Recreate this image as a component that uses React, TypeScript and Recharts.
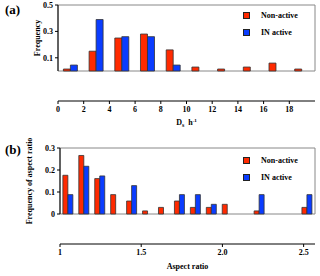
import React from 'react';
import {
  BarChart,
  Bar,
  XAxis,
  YAxis,
  ReferenceArea,
  Legend,
} from 'recharts';

// (a) Ds h^-1 distribution, 2-unit bins from 0 to 20
const binsA = ['0-2', '2-4', '4-6', '6-8', '8-10', '10-12', '12-14', '14-16', '16-18', '18-20'];
const centersA = [1, 3, 5, 7, 9, 11, 13, 15, 17, 19];
const nonActiveA = [0.015, 0.15, 0.25, 0.28, 0.16, 0.03, 0.015, 0.03, 0.06, 0.015];
const inActiveA = [0.045, 0.39, 0.26, 0.26, 0.045, 0, 0, 0, 0, 0];
const xTicksA = [0, 2, 4, 6, 8, 10, 12, 14, 16, 18];
const yTicksA = [0, 0.1, 0.2, 0.3, 0.4, 0.5];

// (b) aspect ratio distribution, 0.1 bins from 1.0 to 2.6
const binsB = ['1.0', '1.1', '1.2', '1.3', '1.4', '1.5', '1.6', '1.7', '1.8', '1.9', '2.0', '2.1', '2.2', '2.3', '2.4', '2.5'];
const centersB = [1.05, 1.15, 1.25, 1.35, 1.45, 1.55, 1.65, 1.75, 1.85, 1.95, 2.05, 2.15, 2.25, 2.35, 2.45, 2.55];
const nonActiveB = [0.176, 0.266, 0.161, 0.088, 0.059, 0.014, 0.03, 0.059, 0.03, 0.03, 0.044, 0, 0.014, 0, 0, 0.03];
const inActiveB = [0.088, 0.217, 0.173, 0, 0.129, 0, 0, 0.088, 0.088, 0.044, 0, 0, 0.088, 0, 0, 0.088];
const xTicksB = [1, 1.5, 2, 2.5];
const xTickLabelsB = ['1', '1.5', '2.0', '2.5'];
const yTicksB = [0, 0.05, 0.1, 0.15, 0.2, 0.25, 0.3];

const dataA = binsA.map((bin, i) => ({
  bin,
  center: centersA[i],
  nonActive: nonActiveA[i],
  inActive: inActiveA[i],
}));

const dataB = binsB.map((bin, i) => ({
  bin,
  center: centersB[i],
  nonActive: nonActiveB[i],
  inActive: inActiveB[i],
}));

const RED = '#ff2a00';
const BLUE = '#0a3cff';
const FONT = '"Liberation Serif", "Times New Roman", serif';
const tickStyle = { fontFamily: FONT, fontSize: 8, fontWeight: 700, fill: '#000' };

const yLabel = (text: string, x: number) => (props: any) => {
  const vb = props.viewBox;
  const cy = vb.y + vb.height / 2;
  return (
    <text
      x={x}
      y={cy}
      transform={`rotate(-90 ${x} ${cy})`}
      textAnchor="middle"
      dominantBaseline="central"
      fontFamily={FONT}
      fontSize={8}
      fontWeight={700}
      fill="#000"
    >
      {text}
    </text>
  );
};

const dsLabel = (props: any) => {
  const vb = props.viewBox;
  const cx = vb.x + vb.width / 2;
  return (
    <text x={cx} y={vb.y + 24} textAnchor="middle" fontFamily={FONT} fontSize={8} fontWeight={700} fill="#000">
      <tspan>D</tspan>
      <tspan dy={2} fontSize={6}>s</tspan>
      <tspan dy={-2} dx={4}>h</tspan>
      <tspan dy={-3} fontSize={5}>-1</tspan>
    </text>
  );
};

const aspectLabel = (props: any) => {
  const vb = props.viewBox;
  const cx = vb.x + vb.width / 2;
  return (
    <text x={cx} y={vb.y + 25} textAnchor="middle" fontFamily={FONT} fontSize={8} fontWeight={700} fill="#000">
      Aspect ratio
    </text>
  );
};

const legendContent = () => (
  <div style={{ fontFamily: FONT, fontSize: 8, fontWeight: 700, color: '#000' }}>
    {[
      { name: 'Non-active', color: RED },
      { name: 'IN active', color: BLUE },
    ].map((it) => (
      <div key={it.name} style={{ display: 'flex', alignItems: 'center', height: 17 }}>
        <span
          style={{
            width: 5,
            height: 5,
            background: it.color,
            border: '1px solid #222',
            marginRight: 11,
          }}
        />
        <span>{it.name}</span>
      </div>
    ))}
  </div>
);

const panelLabel = (text: string, top: number) => (
  <div
    style={{
      position: 'absolute',
      left: 5,
      top,
      fontFamily: FONT,
      fontSize: 13,
      fontWeight: 700,
      lineHeight: '13px',
    }}
  >
    {text}
  </div>
);

export default function App() {
  return (
    <div style={{ position: 'absolute', left: 0, top: 0, width: 320, height: 276, background: '#fff' }}>
      {panelLabel('(a)', 3)}
      <div style={{ position: 'absolute', left: 0, top: 0 }}>
        <BarChart
          width={320}
          height={135}
          data={dataA}
          margin={{ top: 5, right: 5, bottom: 0, left: 0 }}
          barCategoryGap="21%"
          barGap={0}
        >
          <XAxis xAxisId="bins" dataKey="bin" hide />
          <XAxis
            xAxisId="num"
            type="number"
            dataKey="center"
            domain={[0, 20]}
            ticks={xTicksA}
            allowDataOverflow
            height={30}
            tick={tickStyle}
            tickSize={3}
            stroke="#000"
            label={{ content: dsLabel }}
          />
          <YAxis
            domain={[0, 0.5]}
            ticks={yTicksA}
            width={58}
            tick={tickStyle}
            tickSize={3}
            stroke="#000"
            label={{ content: yLabel('Frequency', 37) }}
          />
          <ReferenceArea xAxisId="num" x1={0} x2={20} y1={0} y2={0.5} fill="none" stroke="#888" strokeWidth={1} ifOverflow="visible" />
          <Legend content={legendContent} wrapperStyle={{ left: 243, top: 7, width: 70 }} />
          <Bar xAxisId="bins" dataKey="nonActive" name="Non-active" fill={RED} stroke="#333" strokeWidth={0.8} isAnimationActive={false} />
          <Bar xAxisId="bins" dataKey="inActive" name="IN active" fill={BLUE} stroke="#333" strokeWidth={0.8} isAnimationActive={false} />
        </BarChart>
      </div>

      {panelLabel('(b)', 143)}
      <div style={{ position: 'absolute', left: 0, top: 135 }}>
        <BarChart
          width={320}
          height={141}
          data={dataB}
          margin={{ top: 13, right: 5, bottom: 0, left: 0 }}
          barCategoryGap="18%"
          barGap={0}
        >
          <XAxis xAxisId="bins" dataKey="bin" hide />
          <XAxis
            xAxisId="num"
            type="number"
            dataKey="center"
            domain={[1, 2.57]}
            ticks={xTicksB}
            tickFormatter={(v: number) => xTickLabelsB[xTicksB.indexOf(v)] ?? String(v)}
            allowDataOverflow
            height={28}
            tick={tickStyle}
            tickSize={3}
            stroke="#000"
            label={{ content: aspectLabel }}
          />
          <YAxis
            domain={[0, 0.3]}
            ticks={yTicksB}
            width={60}
            tick={tickStyle}
            tickSize={3}
            stroke="#000"
            label={{ content: yLabel('Frequency of aspect ratio', 29) }}
          />
          <ReferenceArea xAxisId="num" x1={1} x2={2.57} y1={0} y2={0.3} fill="none" stroke="#888" strokeWidth={1} ifOverflow="visible" />
          <Legend content={legendContent} wrapperStyle={{ left: 243, top: 17, width: 70 }} />
          <Bar xAxisId="bins" dataKey="nonActive" name="Non-active" fill={RED} stroke="#333" strokeWidth={0.8} isAnimationActive={false} />
          <Bar xAxisId="bins" dataKey="inActive" name="IN active" fill={BLUE} stroke="#333" strokeWidth={0.8} isAnimationActive={false} />
        </BarChart>
      </div>
    </div>
  );
}
